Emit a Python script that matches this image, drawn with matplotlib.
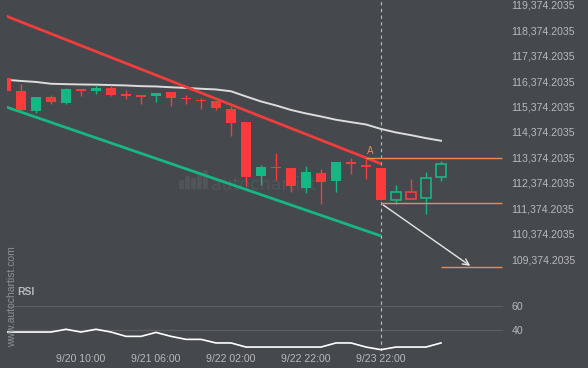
import matplotlib
matplotlib.use("Agg")
import matplotlib.pyplot as plt
from matplotlib.patches import FancyBboxPatch

# candles, 4h, index 0..29
opens  = [116477, 115966, 115193, 115731, 115523, 116045, 115966, 116084, 115849, 115809,
          115798, 115927, 115703, 115633, 115574, 115287, 114749, 112628, 112981, 112942,
          112184, 112746, 112443, 113197, 113060, 112942, 111712, 112027, 111791, 112600]
closes = [115978, 115220, 115731, 115534, 116045, 115978, 116096, 115809, 115798, 115758,
          115900, 115703, 115652, 115585, 115311, 114710, 112600, 112981, 112942, 112255,
          112797, 112404, 113178, 113119, 112981, 111705, 112027, 111752, 112577, 113127]
highs  = [116500, 116241, 115740, 115821, 116096, 116050, 116214, 116202, 116006, 115820,
          115910, 115935, 115837, 115719, 115580, 115405, 114760, 113060, 113559, 112950,
          113032, 112930, 113185, 113362, 113323, 112950, 112274, 112522, 112812, 113217]
lows   = [115960, 115210, 115130, 115456, 115468, 115770, 115876, 115800, 115672, 115483,
          115534, 115405, 115483, 115271, 115248, 114226, 112235, 112274, 112498, 112019,
          111987, 111555, 112011, 112734, 112537, 111700, 111555, 111745, 111135, 112459]
hollow_from = 26

ma = [116426, 116379, 116340, 116269, 116253, 116241, 116234, 116218, 116202, 116175,
      116163, 116131, 116104, 116073, 116045, 115974, 115770, 115574, 115417, 115240,
      115102, 114984, 114855, 114761, 114670, 114493, 114356, 114250, 114132, 114030]

rsi = [38.3, 38.3, 38.3, 38.3, 40.6, 38.3, 40.6, 38.3, 34.7, 34.7,
       38.0, 34.7, 32.2, 32.2, 29.2, 29.2, 25.8, 25.8, 25.8, 25.8,
       25.8, 25.8, 29.2, 29.2, 25.8, 23.6, 25.8, 25.8, 25.8, 29.2]

# channel lines (start, end)
res_x, res_y = [0, 25], [118930, 113127]
sup_x, sup_y = [0, 25], [115360, 110291]

# pattern levels
level_top = 113360
level_break = 111570
target = 109053
pattern_idx = 25
target_idx = 31.1

price_ticks = [109374.2035 + 1000 * k for k in range(11)]
time_idx = [5, 10, 15, 20, 25]
time_labels = ["9/20 10:00", "9/21 06:00", "9/22 02:00", "9/22 22:00", "9/23 22:00"]

BG = "#45484d"
RED = "#fb3b3b"
GREEN = "#15b785"
ORANGE = "#ee8a4e"
TXT = "#b7b9bd"
GRID = "#5b5e63"

W, H = 588, 368
fig = plt.figure(figsize=(W / 100, H / 100), dpi=100)
fig.patch.set_facecolor(BG)


def px_axes(x0, y0, x1, y1):
    a = fig.add_axes([x0 / W, 1 - y1 / H, (x1 - x0) / W, (y1 - y0) / H])
    a.set_facecolor(BG)
    for s in a.spines.values():
        s.set_visible(False)
    return a


ax = px_axes(7, 0, 503, 285)
rax = px_axes(7, 285, 503, 351)
xlim = (1 / 15, 497 / 15)

# watermark
ax.text(0.411, 0.35, "autochartist", transform=ax.transAxes, color="#515459",
        fontsize=12.5, family="DejaVu Sans", ha="left", va="center", zorder=0)
for bx, bh in [(0.349, 0.028), (0.361, 0.042), (0.373, 0.035), (0.385, 0.049), (0.397, 0.063)]:
    ax.add_patch(FancyBboxPatch((bx, 0.338), 0.006, bh, boxstyle="round,pad=0.002",
                                transform=ax.transAxes, fc="#515459", ec="none", zorder=0))

# channel + MA
ax.plot(ma, color="#dcdcdc", lw=1.4, zorder=2)
ax.plot(res_x, res_y, color="#f23d3d", lw=2, zorder=2, solid_capstyle="butt")
ax.plot(sup_x, sup_y, color=GREEN, lw=2, zorder=2, solid_capstyle="butt")

# candles
for i in range(len(opens)):
    o, c, hi, lo = opens[i], closes[i], highs[i], lows[i]
    col = GREEN if c >= o else RED
    body = max(abs(c - o), 60)
    ax.vlines(i, lo, hi, color=col, lw=1, zorder=3)
    if i >= hollow_from:
        ax.bar(i, body, bottom=min(o, c), width=0.64, facecolor=BG, edgecolor=col,
               lw=1.2, zorder=4)
    else:
        ax.bar(i, body, bottom=min(o, c), width=0.72, color=col, lw=0, zorder=4)

# pattern levels and forecast arrow
ax.hlines(level_top, pattern_idx - 1, xlim[1] - 0.05, color=ORANGE, lw=1, zorder=3)
ax.hlines(level_break, pattern_idx, xlim[1] - 0.05, color=ORANGE, lw=1, zorder=3)
ax.hlines(target, target_idx - 2.1, xlim[1] - 0.05, color=ORANGE, lw=1, zorder=3)
ax.text(pattern_idx - 0.75, 113610, "A", color=ORANGE, fontsize=7, ha="center", va="center")
ax.annotate("", xy=(target_idx, target), xytext=(pattern_idx, level_break),
            arrowprops=dict(arrowstyle="->", color="#e6e6e6", lw=1, mutation_scale=11),
            zorder=5)

for a in (ax, rax):
    a.axvline(pattern_idx, color="#bcbcbc", lw=0.8, ls=(0, (3, 3)), zorder=1)
    a.set_xlim(*xlim)
    a.yaxis.tick_right()
    a.tick_params(length=0, colors=TXT, labelsize=7.6)

ax.set_ylim(108364, 119559)
ax.set_yticks(price_ticks)
ax.set_yticklabels([f"{v:,.4f}" for v in price_ticks], family="Liberation Sans")
ax.tick_params(axis="y", pad=6)
ax.set_xticks([])

# RSI panel
rax.set_ylim(22.5, 77.5)
for lvl in (60, 40):
    rax.axhline(lvl, color=GRID, lw=0.9, zorder=0)
rax.plot(rsi, color="white", lw=1.2, zorder=3)
rax.set_yticks([60, 40])
rax.set_yticklabels(["60", "40"], family="Liberation Sans")
rax.tick_params(axis="y", pad=6)
rax.set_xticks(time_idx)
rax.set_xticklabels(time_labels, family="Liberation Sans")
rax.tick_params(axis="x", pad=2)

fig.text(17 / W, 1 - 292 / H, "RSI", color=TXT, fontsize=7.5, fontweight="bold",
         family="Liberation Sans", ha="left", va="center")
fig.text(12 / W, 1 - 297 / H, "www.autochartist.com", color="#8d9095", fontsize=7.5,
         family="Liberation Sans", rotation=90, ha="center", va="center")

plt.savefig("out.png", dpi=100, facecolor=BG)
plt.close()
